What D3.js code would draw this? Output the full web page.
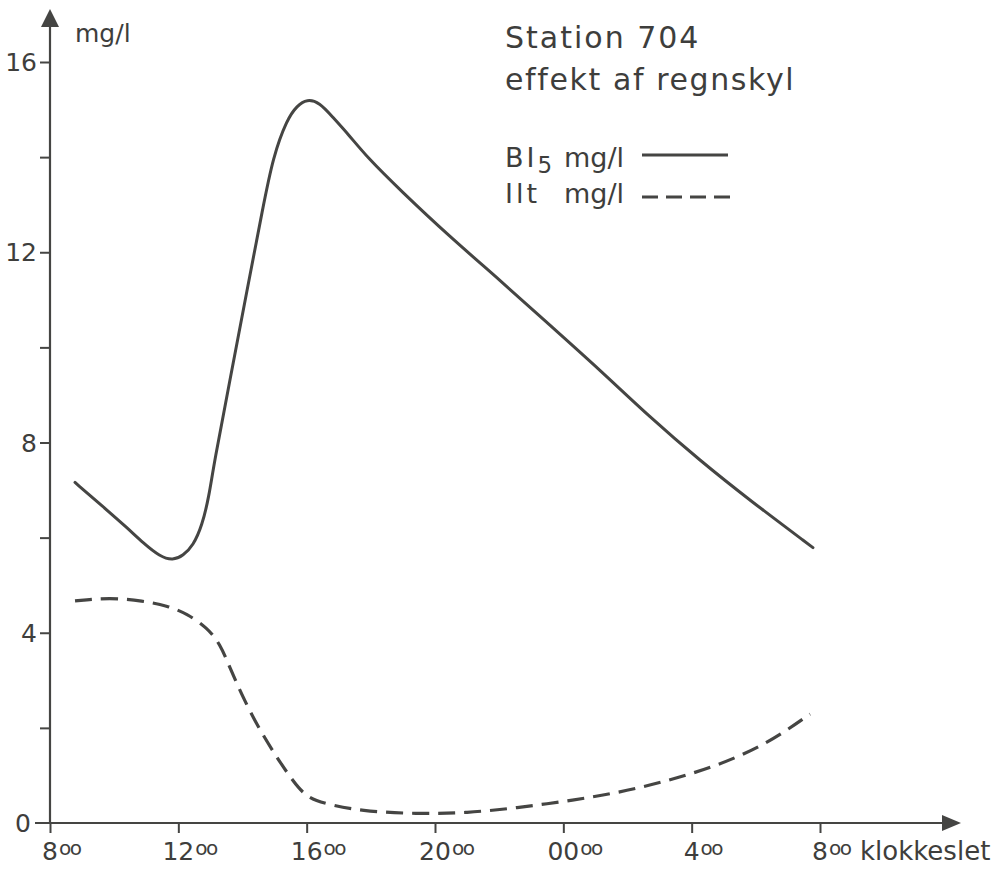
<!DOCTYPE html>
<html>
<head>
<meta charset="utf-8">
<script src="https://cdn.jsdelivr.net/npm/d3@7"></script>
<style>
  html, body { margin: 0; padding: 0; background: #ffffff; }
  svg { display: block; }
  text { font-family: "DejaVu Sans", sans-serif; fill: #3e3e3c; }
</style>
</head>
<body>
<svg id="chart" width="998" height="877"></svg>
<script>
// Hours after 08:00 and measured values (mg/l)
const bi5Hours = [0.78, 1.60, 2.40, 2.90, 3.43, 3.83, 4.15, 4.46, 4.74, 4.96, 5.11, 5.61, 6.14, 6.64, 6.95, 7.39, 7.70, 8.01, 8.40, 8.80, 9.30, 9.88, 10.91, 12.47, 14.03, 15.59, 17.15, 18.70, 20.26, 21.82, 23.78];
const bi5Values = [7.16, 6.68, 6.21, 5.89, 5.60, 5.52, 5.62, 5.83, 6.25, 6.88, 7.56, 9.31, 11.20, 12.95, 14.00, 14.80, 15.08, 15.22, 15.15, 14.85, 14.48, 14.00, 13.31, 12.32, 11.41, 10.46, 9.52, 8.53, 7.62, 6.78, 5.79];

const iltHours = [0.78, 1.87, 2.90, 3.65, 4.27, 4.89, 5.30, 5.61, 6.02, 6.55, 7.08, 7.57, 8.01, 8.63, 9.66, 11.44, 13.00, 14.56, 16.12, 17.67, 19.23, 20.79, 22.35, 23.69];
const iltValues = [4.67, 4.74, 4.67, 4.57, 4.40, 4.11, 3.77, 3.26, 2.63, 1.94, 1.37, 0.88, 0.53, 0.40, 0.25, 0.19, 0.21, 0.32, 0.46, 0.63, 0.88, 1.20, 1.66, 2.29];

const xTickHours = [0, 4, 8, 12, 16, 20, 24];
const xTickLabels = ["8", "12", "16", "20", "00", "4", "8"];
const yTicks = [0, 2, 4, 6, 8, 10, 12, 14, 16];
const yTickLabels = ["0", "", "4", "", "8", "", "12", "", "16"];

const ink = "#454543";
const svg = d3.select("#chart");

const x = d3.scaleLinear().domain([0, 24]).range([50, 820]);
const y = d3.scaleLinear().domain([0, 16]).range([823, 62]);

// Axes
const xAxisY = y(0);
svg.append("line")
  .attr("x1", 35).attr("x2", 948)
  .attr("y1", xAxisY).attr("y2", xAxisY)
  .attr("stroke", ink).attr("stroke-width", 2.2);
svg.append("path")
  .attr("d", `M961,${xAxisY} L942,${xAxisY - 8} L942,${xAxisY + 8} Z`)
  .attr("fill", ink);

svg.append("line")
  .attr("x1", x(0)).attr("x2", x(0))
  .attr("y1", xAxisY).attr("y2", 24)
  .attr("stroke", ink).attr("stroke-width", 2.2);
svg.append("path")
  .attr("d", `M${x(0)},9 L${x(0) - 9},27 L${x(0) + 9},27 Z`)
  .attr("fill", ink);

const xAxis = d3.axisBottom(x).tickValues(xTickHours).tickSize(10).tickFormat("");
const gx = svg.append("g").attr("transform", `translate(0,${xAxisY})`).call(xAxis);
gx.select(".domain").remove();
gx.selectAll(".tick line").attr("stroke", ink).attr("stroke-width", 2);

const yAxis = d3.axisLeft(y).tickValues(yTicks.filter(v => v > 0)).tickSize(10).tickFormat("");
const gy = svg.append("g").attr("transform", `translate(${x(0)},0)`).call(yAxis);
gy.select(".domain").remove();
gy.selectAll(".tick line").attr("stroke", ink).attr("stroke-width", 2);

// Y tick labels
svg.append("g").selectAll("text")
  .data(yTicks.map((v, i) => ({ v, label: yTickLabels[i] })).filter(d => d.label))
  .join("text")
  .attr("x", d => d.v === 0 ? 31 : 37)
  .attr("y", d => y(d.v))
  .attr("dy", "0.36em")
  .attr("text-anchor", "end")
  .attr("font-size", 25)
  .text(d => d.label);

// X tick labels: hour with raised "oo"
const xl = svg.append("g").selectAll("g")
  .data(xTickHours.map((h, i) => ({ h, label: xTickLabels[i] })))
  .join("g");
xl.each(function(d) {
  const g = d3.select(this);
  const main = g.append("text")
    .attr("x", x(d.h)).attr("y", 860)
    .attr("text-anchor", "middle")
    .attr("font-size", 25)
    .text(d.label);
  const w = main.node().getComputedTextLength();
  g.append("text")
    .attr("x", x(d.h) + w / 2 + 1).attr("y", 855)
    .attr("font-size", 20)
    .attr("letter-spacing", -1.5)
    .text("oo");
});
svg.append("text")
  .attr("x", 860).attr("y", 860)
  .attr("font-size", 26)
  .text("klokkeslet");

// Axis unit
svg.append("text")
  .attr("x", 75).attr("y", 42)
  .attr("font-size", 25)
  .text("mg/l");

// Title
svg.append("text")
  .attr("x", 505).attr("y", 48)
  .attr("font-size", 30)
  .attr("letter-spacing", 2)
  .text("Station 704");
svg.append("text")
  .attr("x", 505).attr("y", 90)
  .attr("font-size", 30)
  .attr("letter-spacing", 1.6)
  .text("effekt af regnskyl");

// Curves
const line = d3.line()
  .x(d => x(d[0]))
  .y(d => y(d[1]))
  .curve(d3.curveBasis);

svg.append("path")
  .datum(bi5Hours.map((h, i) => [h, bi5Values[i]]))
  .attr("d", line)
  .attr("fill", "none")
  .attr("stroke", ink)
  .attr("stroke-width", 3)
  .attr("stroke-linecap", "round");

svg.append("path")
  .datum(iltHours.map((h, i) => [h, iltValues[i]]))
  .attr("d", line)
  .attr("fill", "none")
  .attr("stroke", ink)
  .attr("stroke-width", 3.2)
  .attr("stroke-dasharray", "17,9");

// Legend
const bi = svg.append("text").attr("x", 505).attr("y", 167).attr("font-size", 27);
bi.append("tspan").attr("letter-spacing", 3).text("BI");
bi.append("tspan").attr("font-size", 23).attr("dy", 6).text("5");
bi.append("tspan").attr("x", 564).attr("dy", -6).text("mg/l");
const ilt = svg.append("text").attr("x", 505).attr("y", 203).attr("font-size", 27);
ilt.append("tspan").attr("letter-spacing", 3).text("Ilt");
ilt.append("tspan").attr("x", 564).text("mg/l");

svg.append("line")
  .attr("x1", 642).attr("x2", 728).attr("y1", 155).attr("y2", 155)
  .attr("stroke", ink).attr("stroke-width", 3);
svg.append("line")
  .attr("x1", 642).attr("x2", 730).attr("y1", 197).attr("y2", 197)
  .attr("stroke", ink).attr("stroke-width", 3)
  .attr("stroke-dasharray", "16,8");
</script>
</body>
</html>
